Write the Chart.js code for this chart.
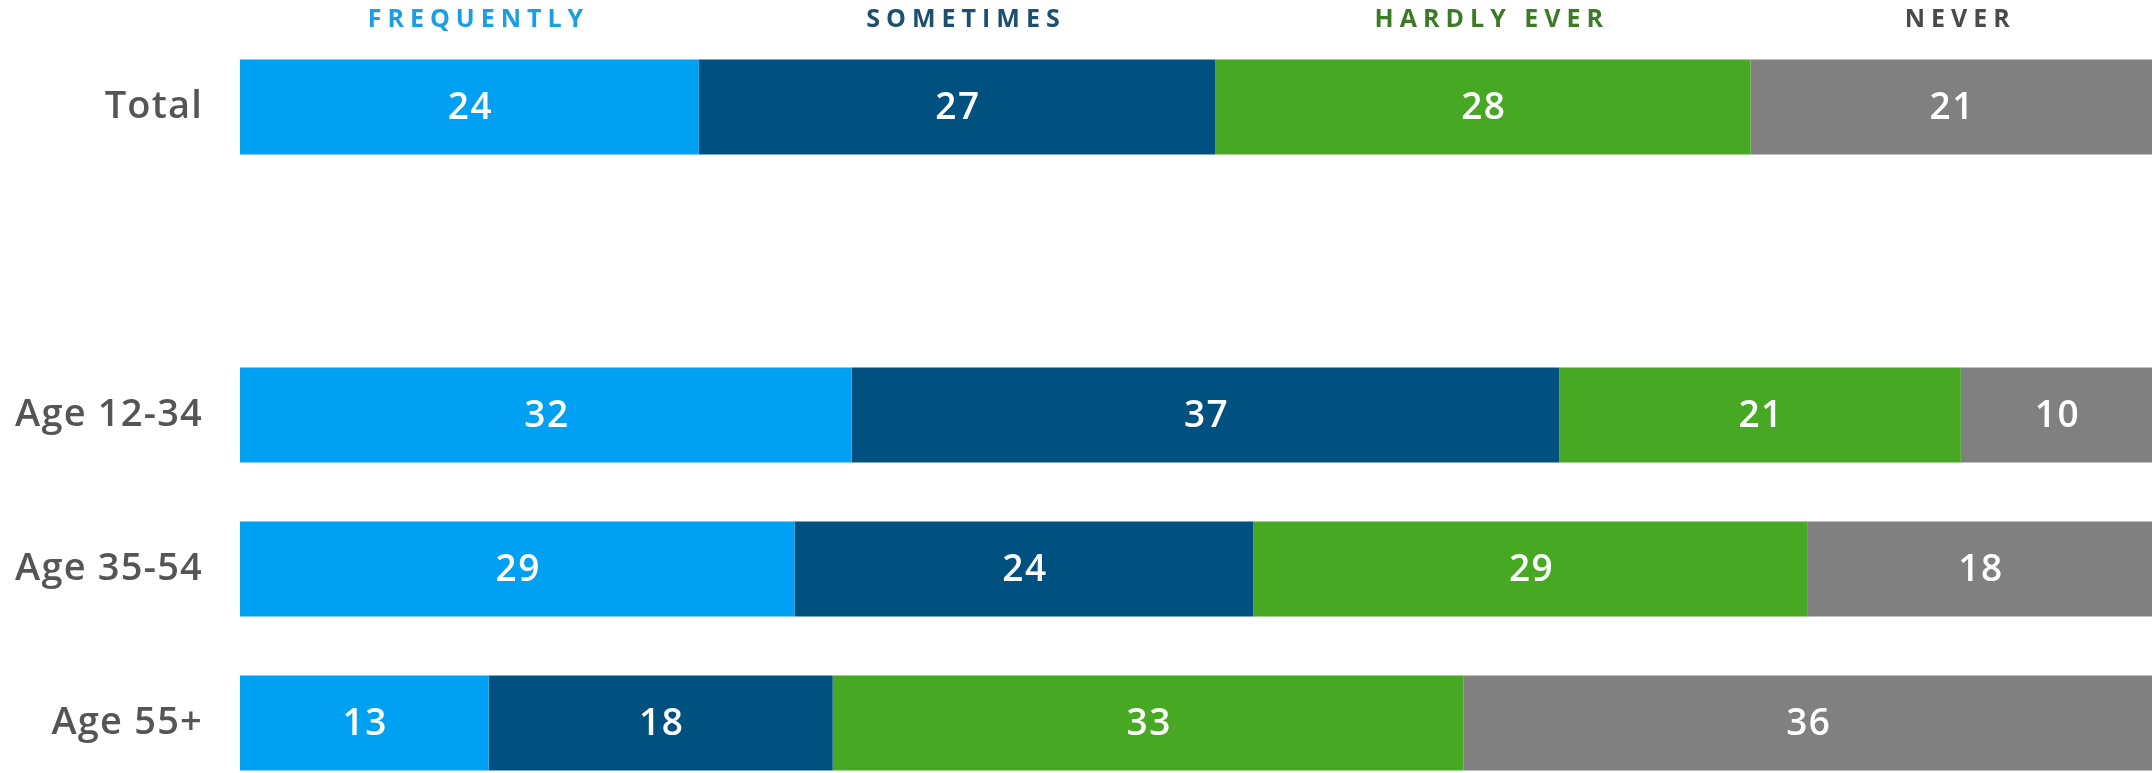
<!DOCTYPE html>
<html>
<head>
<meta charset="utf-8">
<script src="https://cdn.jsdelivr.net/npm/chart.js@4.4.1/dist/chart.umd.min.js"></script>
<style>
  html, body { margin: 0; padding: 0; background: #ffffff; overflow: hidden; }
  #wrap { position: absolute; left: 0; top: 0; width: 2152px; height: 800px; }
</style>
</head>
<body>
<div id="wrap"><canvas id="c"></canvas></div>
<script>
const categories = ["Total", "", "Age 12-34", "Age 35-54", "Age 55+"];
const seriesNames = ["FREQUENTLY", "SOMETIMES", "HARDLY EVER", "NEVER"];
const frequently = [24, null, 32, 29, 13];
const sometimes  = [27, null, 37, 24, 18];
const hardlyEver = [28, null, 21, 29, 33];
const never      = [21, null, 10, 18, 36];
const barColors    = ["#00a0f2", "#00517f", "#47a823", "#808080"];
const legendColors = ["#1b9fe2", "#1d4f70", "#3d7a26", "#4a4a4a"];

const values = [frequently, sometimes, hardlyEver, never];

const tickSpacing = {
  id: 'tickSpacing',
  beforeDraw(chart) {
    try { chart.ctx.letterSpacing = '1.2px'; } catch (e) {}
  }
};

const segmentLabels = {
  id: 'segmentLabels',
  afterDatasetsDraw(chart) {
    const ctx = chart.ctx;
    ctx.save();
    ctx.fillStyle = '#ffffff';
    ctx.font = '600 37px "Open Sans"';
    try { ctx.letterSpacing = '1.5px'; } catch (e) {}
    ctx.textAlign = 'center';
    ctx.textBaseline = 'middle';
    chart.data.datasets.forEach((ds, di) => {
      const meta = chart.getDatasetMeta(di);
      meta.data.forEach((el, i) => {
        const v = ds.data[i];
        if (v === null || v === undefined) return;
        const p = el.getCenterPoint();
        ctx.fillText(String(v), p.x + 1, p.y + 1);
      });
    });
    ctx.restore();
  }
};

const topLegend = {
  id: 'topLegend',
  afterDraw(chart) {
    const ctx = chart.ctx;
    ctx.save();
    ctx.font = '700 25px "Open Sans"';
    try { ctx.letterSpacing = '6px'; } catch (e) {}
    ctx.textAlign = 'center';
    ctx.textBaseline = 'middle';
    chart.data.datasets.forEach((ds, di) => {
      const meta = chart.getDatasetMeta(di);
      const el = meta.data[0];
      const p = el.getCenterPoint();
      ctx.fillStyle = legendColors[di];
      ctx.fillText(ds.label, p.x + 9, 20);
    });
    ctx.restore();
  }
};

new Chart(document.getElementById('c'), {
  type: 'bar',
  data: {
    labels: categories,
    datasets: seriesNames.map((name, i) => ({
      label: name,
      data: values[i],
      backgroundColor: barColors[i],
      borderWidth: 0,
      categoryPercentage: 1.0,
      barPercentage: 0.617
    }))
  },
  options: {
    indexAxis: 'y',
    responsive: true,
    maintainAspectRatio: false,
    animation: false,
    devicePixelRatio: 1,
    layout: { padding: { top: 30, left: 0, right: 0, bottom: 0 } },
    plugins: {
      legend: { display: false },
      tooltip: { enabled: false },
      title: { display: false }
    },
    scales: {
      x: {
        stacked: true,
        min: 0,
        max: 100,
        display: false
      },
      y: {
        stacked: true,
        grid: { display: false, drawTicks: false },
        border: { display: false },
        afterFit(scale) {
          scale.width = 240;
          scale.paddingTop = 0;
          scale.paddingBottom = 0;
        },
        ticks: {
          padding: 37,
          color: '#555555',
          font: { family: '"Open Sans"', size: 38, weight: '600' }
        }
      }
    }
  },
  plugins: [tickSpacing, segmentLabels, topLegend]
});
</script>
</body>
</html>
